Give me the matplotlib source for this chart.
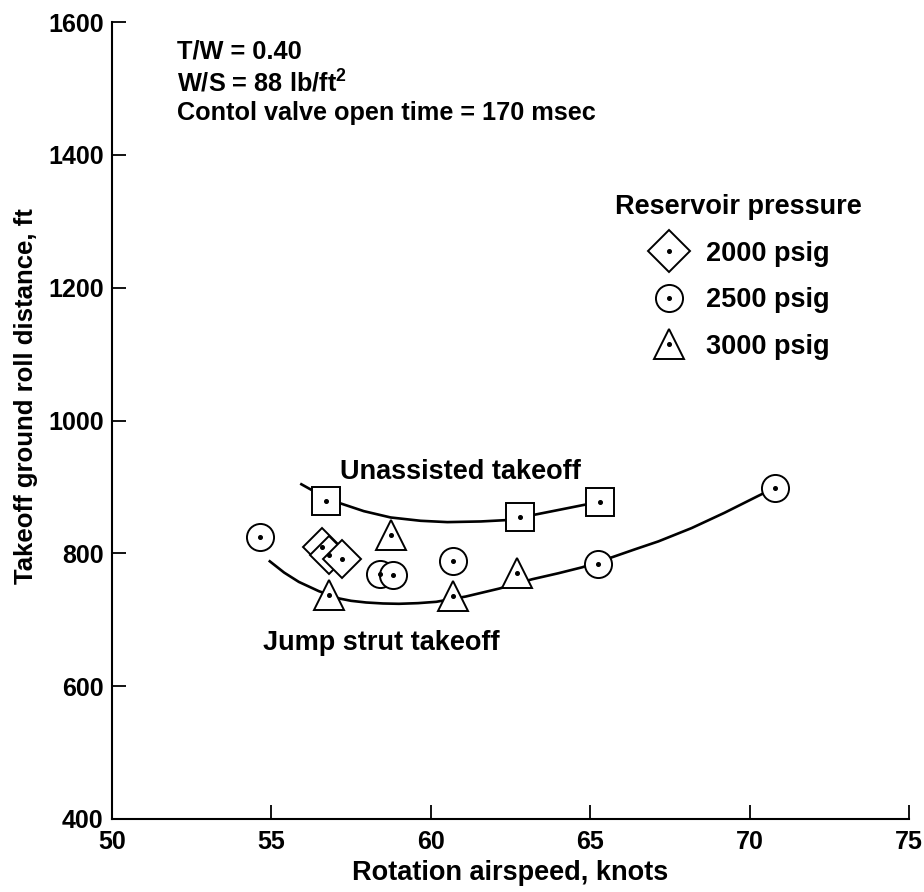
import matplotlib
matplotlib.use('Agg')
import matplotlib.pyplot as plt
from matplotlib.lines import Line2D

plt.rcParams.update({
    'font.family': ['Liberation Sans', 'DejaVu Sans'],
    'font.weight': 'bold',
    'axes.labelweight': 'bold',
    'font.size': 18,
    'mathtext.fontset': 'custom',
    'mathtext.rm': 'Liberation Sans:bold',
    'mathtext.bf': 'Liberation Sans:bold',
})

# unassisted takeoff (squares)
sq_x = [56.7, 62.8, 65.3]
sq_y = [879, 854, 877]

# 2000 psig (diamonds)
dm_x = [56.6, 56.8, 57.2]
dm_y = [810, 797, 791]

# 2500 psig (circles)
ci_x = [54.65, 58.4, 58.8, 60.7, 65.25, 70.8]
ci_y = [824, 769, 767, 789, 784, 899]

# 3000 psig (triangles)
tr_x = [56.8, 58.75, 60.7, 62.7]
tr_y = [737, 828, 736, 770]

# faired curves
unas_x = [55.94, 56.5, 57.18, 57.9, 58.74, 59.68, 60.52, 61.57, 62.36, 63.24, 64.08, 64.81, 65.3]
unas_y = [904, 889, 875, 863.5, 854, 849, 847, 848, 850, 858, 866, 873, 877]

jump_x = [54.95, 55.4, 55.86, 56.49, 57.13, 57.5, 57.97, 58.5, 59.0, 59.6, 60.17, 61.1, 62.15,
          63.18, 64.0, 64.75, 65.68, 66.4, 67.14, 68.18, 69.21, 70.25, 70.8]
jump_y = [788, 771, 757, 743, 732, 728.5, 726, 724.5, 724, 725, 727, 735, 747,
          761, 770, 779, 794, 806, 818, 838, 861, 886, 899]

fig = plt.figure(figsize=(9.24, 8.92), dpi=100)
ax = fig.add_axes([112 / 924, 73 / 892, 797 / 924, 797 / 892])

ax.plot(unas_x, unas_y, color='black', lw=1.9, zorder=2)
ax.plot(jump_x, jump_y, color='black', lw=1.9, zorder=2)

mk = dict(color='black', mfc='white', mec='black', mew=1.4, ls='none', zorder=3)
dot = dict(color='black', marker='o', ms=2.6, ls='none', zorder=4)

ax.plot(sq_x, sq_y, marker='s', ms=20, **mk)
ax.plot(dm_x, dm_y, marker='D', ms=19, **mk)
ax.plot(ci_x, ci_y, marker='o', ms=19.5, **mk)
ax.plot(tr_x, tr_y, marker='^', ms=21, **mk)
for xs, ys in [(sq_x, sq_y), (dm_x, dm_y), (ci_x, ci_y), (tr_x, tr_y)]:
    ax.plot(xs, ys, **dot)

ax.set_xlim(50, 75)
ax.set_ylim(400, 1600)
ax.set_xticks([50, 55, 60, 65, 70, 75])
ax.set_yticks([400, 600, 800, 1000, 1200, 1400, 1600])
ax.spines['top'].set_visible(False)
ax.spines['right'].set_visible(False)
for s in ('left', 'bottom'):
    ax.spines[s].set_linewidth(1.5)
ax.tick_params(direction='in', length=10, width=1.3, labelsize=18)
ax.tick_params(axis='x', pad=8)
ax.tick_params(axis='y', pad=6)

ax.set_xlabel('Rotation airspeed, knots', fontsize=19.5, labelpad=4)
ax.set_ylabel('Takeoff ground roll distance, ft', fontsize=18.5)
ax.yaxis.set_label_coords(-0.093, 0.531)

ax.text(52.05, 1555, 'T/W = 0.40', fontsize=18.3, va='center')
ax.text(52.05, 1508, r'W/S = 88 lb/ft$^{2}$', fontsize=18.3, va='center')
ax.text(52.05, 1463, 'Contol valve open time = 170 msec', fontsize=18.2, va='center')
ax.text(57.15, 922, 'Unassisted takeoff', fontsize=19.5, va='center')
ax.text(54.73, 665, 'Jump strut takeoff', fontsize=19.5, va='center')

def h(m, ms):
    return (Line2D([], [], marker=m, ms=ms, **mk), Line2D([], [], **dot))

leg = ax.legend([h('D', 21), h('o', 19.5), h('^', 21)],
                ['2000 psig', '2500 psig', '3000 psig'],
                title='Reservoir pressure', loc='upper left',
                bbox_to_anchor=(596 / 924, 1 - 175 / 892), bbox_transform=fig.transFigure,
                frameon=False, fontsize=19.5, title_fontsize=19.5,
                handlelength=1.6, handletextpad=0.55, labelspacing=0.76,
                borderpad=0.2)
leg.get_title().set_fontweight('bold')

fig.savefig('out.png', dpi=100)
